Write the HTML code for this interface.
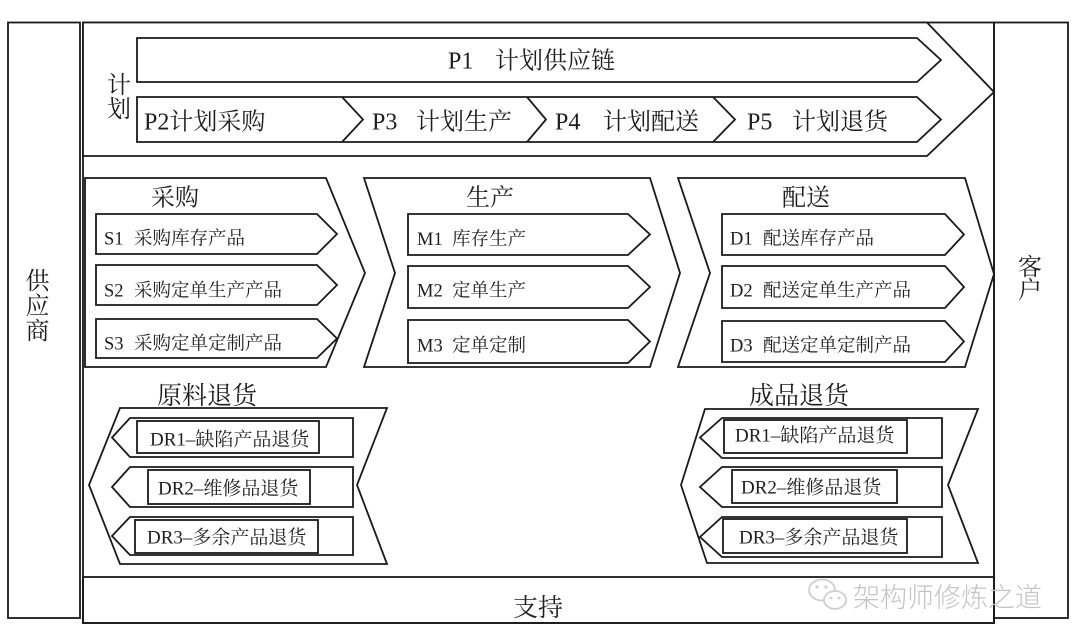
<!DOCTYPE html>
<html>
<head>
<meta charset="utf-8">
<style>
  html, body { margin: 0; padding: 0; background: #ffffff; }
  body { width: 1080px; height: 644px; overflow: hidden; }
  svg { display: block; }
  .ln { fill: none; stroke: #1a1a1a; stroke-width: 1.8; stroke-linejoin: miter; }
  .wf { fill: #ffffff; stroke: #1a1a1a; stroke-width: 1.8; }
  text { fill: #1e1e1e; font-family: "Liberation Serif", "Noto Serif CJK SC", serif; }
  .wm { fill: #c4c4c4; font-family: "Liberation Sans", "Noto Sans CJK SC", sans-serif; font-weight: 300; }
</style>
</head>
<body>
<svg width="1080" height="644" viewBox="0 0 1080 644" xmlns="http://www.w3.org/2000/svg">
  <rect x="0" y="0" width="1080" height="644" fill="#ffffff"/>

  <!-- Supplier box -->
  <rect class="ln" x="8" y="22.5" width="72" height="595.5"/>
  <!-- Customer box -->
  <rect class="ln" x="994" y="22.5" width="74" height="595.5"/>
  <!-- Main frame -->
  <rect class="ln" x="83" y="22.5" width="911" height="600.5"/>
  <!-- Support box -->
  <rect class="ln" x="83" y="577" width="911" height="46"/>

  <!-- Plan chevron -->
  <polygon class="wf" points="83,22.5 927,22.5 994,92 927,156 83,156"/>
  <!-- P1 -->
  <polygon class="ln" points="137,38 917,38 941,60 917,82 137,82"/>
  <!-- P2-P5 row -->
  <polygon class="ln" points="137,97 917,97 941,119.5 917,142 137,142"/>
  <polyline class="ln" points="342,97 363,119.5 342,142"/>
  <polyline class="ln" points="527,97 546,119.5 527,142"/>
  <polyline class="ln" points="713,97 735,119.5 713,142"/>

  <!-- Plan texts -->
  <text x="107" y="93" font-size="24">计</text>
  <text x="107" y="117" font-size="24">划</text>
  <text x="448" y="68.5" font-size="24">P1</text>
  <text x="495" y="68.5" font-size="24">计划供应链</text>
  <text x="144" y="129.5" font-size="24">P2计划采购</text>
  <text x="372" y="129.5" font-size="24">P3</text>
  <text x="416" y="129.5" font-size="24">计划生产</text>
  <text x="555" y="129.5" font-size="24">P4</text>
  <text x="603" y="129.5" font-size="24">计划配送</text>
  <text x="747" y="129.5" font-size="24">P5</text>
  <text x="792" y="129.5" font-size="24">计划退货</text>

  <!-- Purchase chevron -->
  <polygon class="ln" points="85,178 326,178 365,273 326,367 85,367"/>
  <polygon class="ln" points="96,214 317,214 337,234 317,254 96,254"/>
  <polygon class="ln" points="96,265 317,265 337,285 317,305 96,305"/>
  <polygon class="ln" points="96,319 317,319 337,338.5 317,358 96,358"/>
  <text x="151" y="205.5" font-size="24">采购</text>
  <text x="104" y="244.5" font-size="18.5">S1</text>
  <text x="134" y="244.5" font-size="18.5">采购库存产品</text>
  <text x="104" y="296.5" font-size="18.5">S2</text>
  <text x="134" y="296.5" font-size="18.5">采购定单生产产品</text>
  <text x="104" y="349.5" font-size="18.5">S3</text>
  <text x="134" y="349.5" font-size="18.5">采购定单定制产品</text>

  <!-- Production chevron -->
  <polygon class="ln" points="364,178 650,178 680,273 650,367 364,367 395,273"/>
  <polygon class="ln" points="408,214 628,214 650,234.5 628,255 408,255"/>
  <polygon class="ln" points="408,266 628,266 650,287 628,308 408,308"/>
  <polygon class="ln" points="408,320 628,320 650,341.5 628,363 408,363"/>
  <text x="466" y="205.5" font-size="24">生产</text>
  <text x="417" y="245" font-size="18.5">M1</text>
  <text x="452" y="245" font-size="18.5">库存生产</text>
  <text x="417" y="296.5" font-size="18.5">M2</text>
  <text x="452" y="296.5" font-size="18.5">定单生产</text>
  <text x="417" y="351.5" font-size="18.5">M3</text>
  <text x="452" y="351.5" font-size="18.5">定单定制</text>

  <!-- Delivery chevron -->
  <polygon class="ln" points="678,178 965,178 994,274 965,367 678,367 710,273"/>
  <polygon class="ln" points="722,214 945,214 964,234.5 945,255 722,255"/>
  <polygon class="ln" points="722,266 945,266 964,287 945,308 722,308"/>
  <polygon class="ln" points="722,321 945,321 964,341.5 945,362 722,362"/>
  <text x="782" y="205.5" font-size="24">配送</text>
  <text x="730" y="244.5" font-size="18.5">D1</text>
  <text x="763" y="244.5" font-size="18.5">配送库存产品</text>
  <text x="730" y="296.5" font-size="18.5">D2</text>
  <text x="763" y="296.5" font-size="18.5">配送定单生产产品</text>
  <text x="730" y="351.5" font-size="18.5">D3</text>
  <text x="763" y="351.5" font-size="18.5">配送定单定制产品</text>

  <!-- Raw material returns (left) -->
  <text x="157" y="404" font-size="25">原料退货</text>
  <polygon class="ln" points="120,408 387,408 357,485 387,564 120,564 89,485"/>
  <polygon class="ln" points="353,418 130,418 112,437.5 130,457 353,457"/>
  <rect class="ln" x="137" y="421" width="182" height="32"/>
  <polygon class="ln" points="353,467 130,467 112,487 130,507 353,507"/>
  <rect class="ln" x="148" y="470" width="162" height="34"/>
  <polygon class="ln" points="353,517 130,517 112,536 130,555 353,555"/>
  <rect class="ln" x="135" y="520" width="183" height="33"/>
  <text x="150" y="445.5" font-size="19">DR1–缺陷产品退货</text>
  <text x="158" y="494.5" font-size="19">DR2–维修品退货</text>
  <text x="147" y="543.5" font-size="19">DR3–多余产品退货</text>

  <!-- Finished goods returns (right) -->
  <text x="749" y="404" font-size="25">成品退货</text>
  <polygon class="ln" points="705,409 978,409 948,485 978,563 707,563 681,485"/>
  <polygon class="ln" points="942,418 722,418 700,437.5 722,458 942,458"/>
  <rect class="ln" x="724" y="420" width="183" height="33"/>
  <polygon class="ln" points="942,467 722,467 700,487 722,507 942,507"/>
  <rect class="ln" x="732" y="470" width="165" height="33"/>
  <polygon class="ln" points="942,517 722,517 700,537 722,557 942,557"/>
  <rect class="ln" x="723" y="519" width="184" height="34"/>
  <text x="735" y="441.5" font-size="19">DR1–缺陷产品退货</text>
  <text x="741" y="493.5" font-size="19">DR2–维修品退货</text>
  <text x="739" y="543.5" font-size="19">DR3–多余产品退货</text>

  <!-- Side labels -->
  <text x="25.5" y="289" font-size="24">供</text>
  <text x="25.5" y="314" font-size="24">应</text>
  <text x="25.5" y="339" font-size="24">商</text>
  <text x="1018" y="275" font-size="24">客</text>
  <text x="1018" y="298" font-size="24">户</text>

  <!-- Support -->
  <text x="513" y="616" font-size="25">支持</text>

  <!-- Watermark -->
  <g fill="none" stroke="#cfcfcf" stroke-width="1.8">
    <ellipse cx="822" cy="590" rx="13" ry="10.5"/>
    <ellipse cx="835" cy="600" rx="11" ry="9" fill="#ffffff"/>
  </g>
  <g fill="#cfcfcf">
    <circle cx="817" cy="587" r="1.6"/>
    <circle cx="826" cy="587" r="1.6"/>
    <circle cx="831" cy="598" r="1.4"/>
    <circle cx="839" cy="598" r="1.4"/>
  </g>
  <text class="wm" x="853" y="607" font-size="27">架构师修炼之道</text>
</svg>
</body>
</html>
